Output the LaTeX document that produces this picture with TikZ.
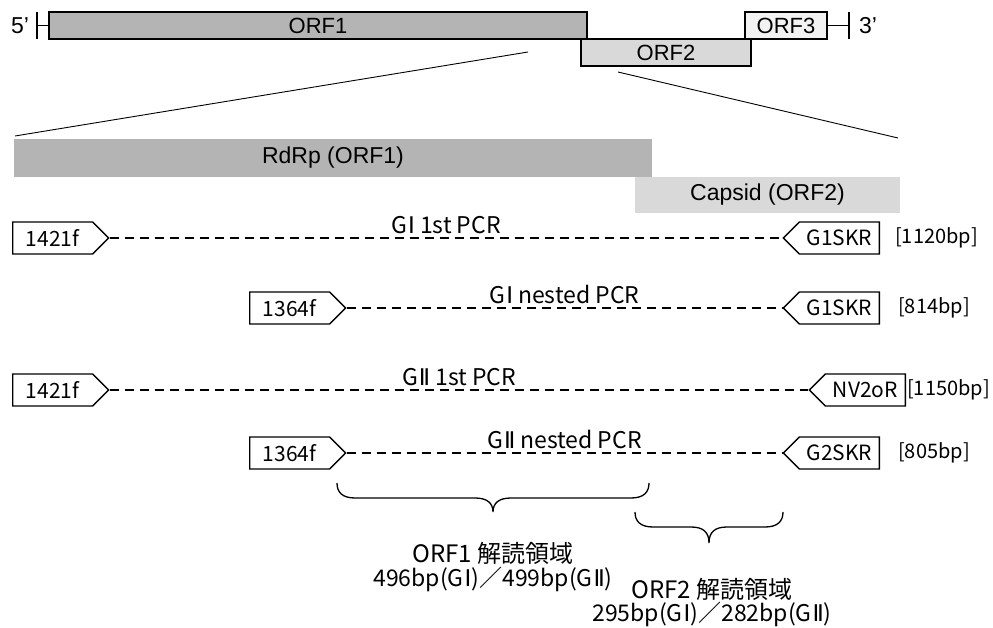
\documentclass[tikz,border=0pt]{standalone}
\usepackage{fontspec}
\setmainfont{Liberation Sans}
\newfontfamily\jpfont{Noto Sans CJK JP}
\newfontfamily\romanfont{DejaVu Sans}
\newcommand\gOne{G\kern1pt{\romanfont Ⅰ}}
\newcommand\gTwo{G\kern1pt{\romanfont Ⅱ}}
\usetikzlibrary{shapes.symbols}
\definecolor{orfdark}{HTML}{B4B4B4}
\definecolor{orfmid}{HTML}{D9D9D9}
\definecolor{orflight}{HTML}{F2F2F2}

\begin{document}
\begin{tikzpicture}[x=1pt,y=-1pt,
  orfbox/.style={draw, line width=1.6pt, minimum height=27pt, inner sep=0pt,
    font=\fontsize{22}{22}\selectfont},
  tick/.style={line width=1.6pt},
  endlabel/.style={inner sep=0pt, font=\fontsize{23}{23}\selectfont},
  zoomline/.style={line width=0.9pt},
  bar/.style={inner sep=0pt, font=\fontsize{23}{23}\selectfont},
  primer/.style={signal, draw, line width=1.3pt, signal pointer angle=90,
    minimum height=32pt, minimum width=96pt, inner sep=2pt,
    font=\jpfont\fontsize{21}{21}\selectfont},
  fwd/.style={primer, signal to=east, anchor=west},
  rev/.style={primer, signal to=west, anchor=east},
  amplicon/.style={line width=1.3pt, dash pattern=on 9pt off 6pt},
  pcrlabel/.style={midway, above=4pt, inner sep=0pt, font=\jpfont\fontsize{23}{23}\selectfont},
  size/.style={anchor=west, inner sep=0pt, font=\jpfont\fontsize{20}{20}\selectfont},
  bracket/.style={line width=1.3pt},
  region/.style={inner sep=0pt, font=\jpfont\fontsize{24}{24}\selectfont},
  regionlen/.style={inner sep=0pt, font=\jpfont\fontsize{23}{23}\selectfont}]

\useasboundingbox (0,0) rectangle (993,628);

% genome map
\node[orfbox, fill=orfdark, minimum width=538pt] (orf1) at (318,25.5) {ORF1};
\node[orfbox, fill=orfmid, minimum width=170pt] (orf2) at (666,52.5) {ORF2};
\node[orfbox, fill=orflight, minimum width=82pt] (orf3) at (786,25.5) {ORF3};

\coordinate (end5) at (37,25.5);
\coordinate (end3) at (849,25.5);
\draw[tick] (orf1.west) -- (end5);
\draw[tick] ([yshift=-13.5pt]end5) -- ([yshift=13.5pt]end5);
\draw[tick] (orf3.east) -- (end3);
\draw[tick] ([yshift=-13.5pt]end3) -- ([yshift=13.5pt]end3);
\node[endlabel] (five) at (20,25.5) {5’};
\node[endlabel] (three) at (868,25.5) {3’};

% enlargement lines
\coordinate (zl1) at (528,52);
\coordinate (zl2) at (15,136);
\coordinate (zr1) at (618,72);
\coordinate (zr2) at (898,138);
\draw[zoomline] (zl1) -- (zl2);
\draw[zoomline] (zr1) -- (zr2);

% protein regions
\node[bar, fill=orfdark, minimum width=638pt, minimum height=38pt] (rdrp) at (333,158) {RdRp (ORF1)};
\node[bar, fill=orfmid, minimum width=265pt, minimum height=36pt] (capsid) at (767.5,195) {Capsid (ORF2)};

% primer pairs
\node[fwd] (f1) at (12,238) {1421f};
\node[rev] (r1) at (880,238) {G1SKR};
\draw[amplicon] (f1.east) -- (r1.west) node[pcrlabel] {\gOne{} 1st PCR};
\node[size] (s1) at (895,238) {[1120bp]};

\node[fwd] (f2) at (249,308) {1364f};
\node[rev] (r2) at (880,308) {G1SKR};
\draw[amplicon] (f2.east) -- (r2.west) node[pcrlabel] {\gOne{} nested PCR};
\node[size] (s2) at (898,308) {[814bp]};

\node[fwd] (f3) at (12,390) {1421f};
\node[rev] (r3) at (906,390) {NV2oR};
\draw[amplicon] (f3.east) -- (r3.west) node[pcrlabel] {\gTwo{} 1st PCR};
\node[size] (s3) at (907,390) {[1150bp]};

\node[fwd] (f4) at (249,453) {1364f};
\node[rev] (r4) at (880,453) {G2SKR};
\draw[amplicon] (f4.east) -- (r4.west) node[pcrlabel] {\gTwo{} nested PCR};
\node[size] (s4) at (898,453) {[805bp]};

% sequenced regions
\draw[bracket] (337,483) .. controls (337,492) and (342,498) .. (355,498)
  -- (475,498) .. controls (487,498) and (493,503) .. (493,512)
  .. controls (493,503) and (499,498) .. (511,498)
  -- (631,498) .. controls (644,498) and (649,492) .. (649,483);
\draw[bracket] (635,512) .. controls (635,521) and (640,527) .. (653,527)
  -- (691,527) .. controls (703,527) and (709,532) .. (709,543)
  .. controls (709,532) and (715,527) .. (727,527)
  -- (765,527) .. controls (778,527) and (783,521) .. (783,512);

\node[region] (orf1reg) at (493,553) {ORF1 解読領域};
\node[regionlen] (orf1len) at (493,579) {496bp(\gOne)／499bp(\gTwo)};
\node[region] (orf2reg) at (712,589) {ORF2 解読領域};
\node[regionlen] (orf2len) at (712,614) {295bp(\gOne)／282bp(\gTwo)};
\end{tikzpicture}
\end{document}
